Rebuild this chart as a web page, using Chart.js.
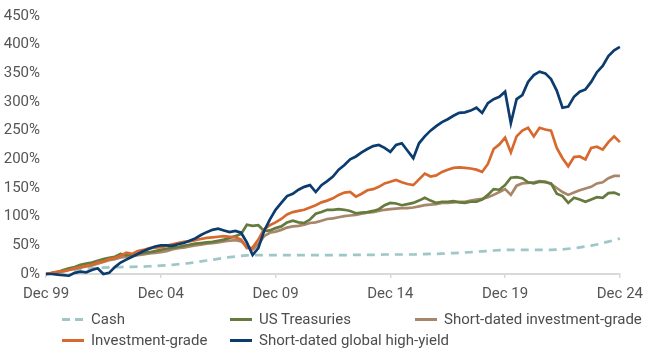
<!DOCTYPE html>
<html>
<head>
<meta charset="utf-8">
<script src="https://cdn.jsdelivr.net/npm/chart.js@4.4.1/dist/chart.umd.min.js"></script>
<style>
  html, body { margin: 0; padding: 0; background: #fff; }
  #wrap     { position: relative; width: 650px; height: 354px; font-family: Roboto, sans-serif; }
  #chartBox { position: absolute; left: 0; top: 0; width: 650px; height: 310px; }
  #legend   { position: absolute; left: 0; top: 0; width: 650px; height: 354px; pointer-events: none; }
  .item     { position: absolute; display: flex; align-items: center; height: 20px;
              font-size: 15px; color: #4d4d4d; white-space: nowrap; }
  .swatch   { width: 22px; height: 3px; margin-right: 7px; }
</style>
</head>
<body>
<div id="wrap">
  <div id="chartBox"><canvas id="chart"></canvas></div>
  <div id="legend"></div>
</div>
<script>
// ── DATA (quarter-end cumulative returns, %, Dec 99 → Dec 24) ──
const tickLabels = ['Dec 99', 'Dec 04', 'Dec 09', 'Dec 14', 'Dec 19', 'Dec 24'];
const seriesNames = ['Cash', 'US Treasuries', 'Short-dated investment-grade',
                     'Investment-grade', 'Short-dated global high-yield'];

const cash = [
  0, 1.5, 3, 4.5, 6, 7.5, 8.5, 9.5, 10, 10.5,
  11, 11.5, 12, 12, 12.5, 12.5, 13, 13, 13.5, 14,
  14.5, 15, 16, 17, 18, 19, 20.5, 22, 23.5, 25,
  26.5, 28, 29.5, 30.5, 31.5, 32.5, 33, 33, 33, 33,
  33, 33, 33, 33, 33, 33, 33, 33, 33, 33,
  33, 33, 33, 33, 33.5, 33.5, 33.5, 33.5, 33.5, 34,
  34, 34, 34, 34, 34, 34.5, 34.5, 35, 35, 35.5,
  36, 36.5, 37, 37.5, 38, 39, 39.5, 40, 41, 41.5,
  42, 42, 42, 42, 42, 42, 42, 42, 42, 42.5,
  43, 44, 45, 46.5, 48, 49.5, 51.5, 54, 56.5, 59,
  62
];

const usTreasuries = [
  0, 1, 3, 7, 10, 12, 16, 18, 20, 23,
  26, 28, 30, 35, 33, 34, 36, 37, 38, 40,
  42, 44, 46, 47, 49, 51, 53, 54, 55, 56,
  58, 60, 63, 66, 70, 86, 84, 85, 75, 76,
  80, 83, 90, 93, 90, 89, 95, 105, 108, 112,
  112, 113, 112, 110, 106, 107, 108, 110, 113, 120,
  124, 123, 120, 122, 124, 128, 133, 128, 124, 126,
  126, 127, 125, 124, 126, 126, 130, 138, 148, 147,
  155, 168, 169, 167, 160, 158, 161, 160, 158, 140,
  136, 124, 133, 130, 126, 130, 134, 133, 141, 142,
  138
];

const shortDatedIG = [
  0, 1, 3, 5, 7, 9, 11, 13, 15, 18,
  21, 24, 26, 29, 30, 31, 33, 34, 36, 37,
  38, 40, 43, 45, 46, 48, 50, 51, 53, 54,
  55, 57, 58, 59, 57, 48, 42, 52, 66, 72,
  74, 77, 81, 83, 84, 86, 89, 90, 93, 96,
  97, 99, 101, 102, 103, 105, 107, 108, 110, 112,
  113, 114, 115, 115, 116, 118, 120, 121, 122, 124,
  124, 125, 126, 126, 128, 130, 131, 134, 138, 143,
  148, 138, 154, 158, 159, 160, 162, 161, 157, 150,
  143, 138, 142, 146, 149, 152, 158, 160, 167, 171,
  171
];

const investmentGrade = [
  0, 2, 4, 5, 7, 10, 12, 14, 16, 20,
  22, 26, 28, 32, 37, 35, 40, 42, 45, 46,
  47, 49, 52, 54, 56, 57, 59, 61, 63, 64,
  65, 66, 65, 64, 60, 45, 46, 60, 78, 85,
  90, 96, 104, 108, 110, 112, 116, 120, 125, 128,
  132, 138, 142, 143, 135, 140, 146, 148, 152, 158,
  161, 164, 160, 157, 155, 165, 175, 170, 172, 178,
  182, 185, 186, 185, 184, 182, 178, 192, 218, 226,
  238, 212, 240, 250, 255, 240, 255, 252, 250, 220,
  202, 188, 204, 205, 200, 220, 222, 217, 230, 240,
  230
];

const shortDatedHY = [
  0, 0, -1, -2, -3, 2, 4, 3, 7, 10,
  0, 2, 12, 20, 25, 30, 35, 40, 44, 48,
  50, 50, 49, 52, 54, 58, 62, 68, 73, 77,
  79, 76, 73, 75, 72, 55, 33, 45, 75, 95,
  112, 124, 136, 140, 147, 152, 155, 143, 155, 162,
  170, 182, 190, 200, 205, 212, 218, 223, 225, 220,
  213, 225, 228, 215, 202, 228, 240, 250, 258, 265,
  270, 276, 281, 282, 285, 290, 281, 298, 305, 309,
  318, 263, 305, 312, 335, 347, 353, 350, 340, 320,
  290, 292, 309, 318, 322, 335, 352, 363, 380, 390,
  396
];

// ── COLORS ──
const COLORS = {
  cash:   '#9fc6c8',
  ust:    '#657a3d',
  sdig:   '#a8866a',
  ig:     '#d8692e',
  hy:     '#0c3c6e',
  text:   '#555555',
  axis:   '#d9d9d9',
};

// quarter labels along the category axis
const MONTHS = ['Mar', 'Jun', 'Sep', 'Dec'];
const quarterLabels = cash.map((_, i) => {
  const q = (i + 3) % 4;
  const yr = 1999 + Math.floor((i + 3) / 4);
  return MONTHS[q] + ' ' + String(yr).slice(2);
});

Chart.defaults.font.family = "Roboto, sans-serif";
Chart.defaults.font.size   = 15;
Chart.defaults.color       = COLORS.text;

function line(label, data, color, order, extra = {}) {
  return Object.assign({
    label, data, order,
    borderColor: color,
    backgroundColor: color,
    borderWidth: 2.7,
    pointRadius: 0,
    pointHoverRadius: 0,
    tension: 0,
    fill: false,
    clip: false,
  }, extra);
}

const datasets = [
  line(seriesNames[0], cash,            COLORS.cash, 5, { borderDash: [8, 6] }),
  line(seriesNames[1], usTreasuries,    COLORS.ust,  3),
  line(seriesNames[2], shortDatedIG,    COLORS.sdig, 4),
  line(seriesNames[3], investmentGrade, COLORS.ig,   2),
  line(seriesNames[4], shortDatedHY,    COLORS.hy,   1),
];

new Chart(document.getElementById('chart'), {
  type: 'line',
  data: { labels: quarterLabels, datasets },
  options: {
    responsive: true,
    maintainAspectRatio: false,
    animation: false,
    layout: { padding: { top: 16, right: 30, left: 0, bottom: 0 } },
    plugins: { legend: { display: false }, tooltip: { enabled: false } },
    scales: {
      x: {
        offset: false,
        border: { display: true, color: COLORS.axis, width: 2 },
        grid: {
          drawOnChartArea: false,
          drawTicks: true,
          tickLength: 4,
          color: COLORS.axis,
          lineWidth: 1.5,
        },
        ticks: {
          autoSkip: false,
          maxRotation: 0,
          padding: 7,
          callback: (v, i) => i % 20 === 0 ? tickLabels[i / 20] : null,
        },
        afterFit: s => { s.height = 36; },
      },
      y: {
        min: 0,
        max: 450,
        border: { display: false },
        grid: { display: false, drawTicks: false },
        ticks: {
          stepSize: 50,
          padding: 6,
          callback: v => v + '%',
        },
        afterFit: s => { s.width = 46; },
      },
    },
  },
});

// ── HTML LEGEND (3 columns, 2 rows) ──
const legendSpots = [[62, 309], [230, 309], [415, 309], [62, 330], [230, 330]];
const legendEl = document.getElementById('legend');
datasets.forEach((ds, i) => {
  const item = document.createElement('div');
  item.className = 'item';
  item.style.left = legendSpots[i][0] + 'px';
  item.style.top  = legendSpots[i][1] + 'px';
  const sw = document.createElement('span');
  sw.className = 'swatch';
  sw.style.background = ds.borderDash
    ? `repeating-linear-gradient(90deg, ${ds.borderColor} 0 8px, transparent 8px 13px)`
    : ds.borderColor;
  item.appendChild(sw);
  item.appendChild(document.createTextNode(ds.label));
  legendEl.appendChild(item);
});
</script>
</body>
</html>
